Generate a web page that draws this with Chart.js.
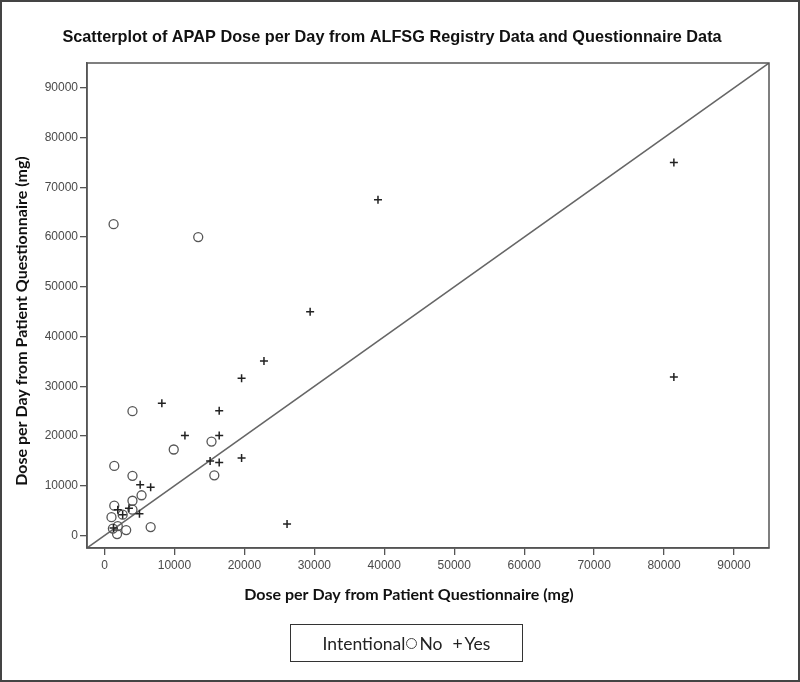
<!DOCTYPE html>
<html>
<head>
<meta charset="utf-8">
<script src="https://cdn.jsdelivr.net/npm/chart.js@4/dist/chart.umd.min.js"></script>
<style>
  html, body { margin: 0; padding: 0; background: #fff; }
  #wrap { position: relative; width: 800px; height: 682px; }
  #frame { position: absolute; left: 0; top: 0; width: 800px; height: 682px; box-sizing: border-box; border: 2px solid #444; pointer-events: none; }
  #legend { position: absolute; left: 290px; top: 624px; width: 233px; height: 38px; box-sizing: border-box; border: 1px solid #333; font: 17.5px Lato, sans-serif; color: #222; display: flex; align-items: center; justify-content: center; }
  #legend .c { display: inline-block; width: 9px; height: 9px; border: 1.3px solid #444; border-radius: 50%; margin: 0 2px 0 1px; }
  #legend .p { margin: 0 2px 0 10px; }
</style>
</head>
<body>
<div id="wrap">
  <canvas id="chart" width="800" height="682"></canvas>
  <div id="legend"></div>
  <div id="frame"></div>
</div>
<script>
(function () {
  const title = "Scatterplot of APAP Dose per Day from ALFSG Registry Data and Questionnaire Data";
  const xTitle = "Dose per Day from Patient Questionnaire (mg)";
  const yTitle = "Dose per Day from Patient Questionnaire (mg)";
  const legendTitle = "Intentional";

  // Intentional = No (open circles)
  const noX = [1300, 13400, 4000, 1400, 9900, 15300, 15700, 4000, 5300, 4000, 1400, 4000, 1000, 2600, 1200, 1800, 3100, 6600, 1900];
  const noY = [62600, 60000, 25000, 14000, 17300, 18900, 12100, 12000, 8100, 7000, 6000, 5200, 3700, 4200, 1400, 300, 1100, 1700, 1900];
  // Intentional = Yes (crosses)
  const yesX = [81400, 81400, 39100, 29400, 22800, 19600, 8200, 16400, 11500, 16400, 15100, 16400, 19600, 5100, 6600, 3500, 5000, 26100, 2600, 1900, 1300];
  const yesY = [75000, 31900, 67500, 45000, 35100, 31600, 26600, 25100, 20100, 20100, 15000, 14700, 15600, 10200, 9700, 5500, 4400, 2300, 4200, 5200, 1500];

  const tickValues = [0, 10000, 20000, 30000, 40000, 50000, 60000, 70000, 80000, 90000];
  const axisMin = -2500;
  const axisMax = 95000;

  const toPoints = (xs, ys) => xs.map((x, i) => ({ x, y: ys[i] }));

  document.getElementById("legend").innerHTML =
    `${legendTitle}<span class="c"></span>No<span class="p">+</span>Yes`;

  const boxPlugin = {
    id: "box",
    afterDatasetsDraw(chart) {
      const { ctx, chartArea: a } = chart;
      ctx.save();
      ctx.strokeStyle = "#555";
      ctx.lineWidth = 1.5;
      ctx.strokeRect(a.left, a.top, a.right - a.left, a.bottom - a.top);
      ctx.restore();
    },
  };

  const textPlugin = {
    id: "texts",
    afterDraw(chart) {
      const ctx = chart.ctx;
      ctx.save();
      ctx.fillStyle = "#111";
      ctx.textAlign = "center";
      ctx.textBaseline = "middle";
      ctx.font = 'bold 16.3px "Liberation Sans", Arial, sans-serif';
      ctx.fillText(title, 392, 38);
      ctx.font = 'bold 16px Lato, sans-serif';
      ctx.fillText(xTitle, 409, 595);
      ctx.translate(22, 321);
      ctx.rotate(-Math.PI / 2);
      ctx.fillText(yTitle, 0, 0);
      ctx.restore();
    },
  };

  const tickFont = { family: '"Liberation Sans", Arial, sans-serif', size: 12 };
  const setTicks = (s) => { s.ticks = tickValues.map((v) => ({ value: v })); };
  const plain = (v) => String(v);

  new Chart(document.getElementById("chart"), {
    type: "scatter",
    data: {
      datasets: [
        { type: "line", label: "ref", data: toPoints([axisMin, axisMax], [axisMin, axisMax]), borderColor: "#666", borderWidth: 1.5, pointRadius: 0, order: 3 },
        { label: "No", data: toPoints(noX, noY), pointStyle: "circle", pointRadius: 4.5, borderColor: "#555", borderWidth: 1.3, backgroundColor: "rgba(0,0,0,0)", order: 2 },
        { label: "Yes", data: toPoints(yesX, yesY), pointStyle: "cross", pointRadius: 4, borderColor: "#222", borderWidth: 1.5, order: 1 },
      ],
    },
    options: {
      responsive: false,
      animation: false,
      layout: { padding: { top: 63, right: 31, left: 0, bottom: 0 } },
      plugins: { legend: { display: false }, title: { display: false }, tooltip: { enabled: false } },
      scales: {
        x: {
          type: "linear", min: axisMin, max: axisMax,
          afterBuildTicks: setTicks,
          afterFit: (s) => { s.height = 134; },
          ticks: { font: tickFont, color: "#4a4a4a", padding: 3, maxRotation: 0, callback: plain },
          grid: { drawOnChartArea: false, tickLength: 7, color: "#555", lineWidth: 1.3 },
          border: { color: "#555", width: 1.5 },
        },
        y: {
          type: "linear", min: axisMin, max: axisMax,
          afterBuildTicks: setTicks,
          afterFit: (s) => { s.width = 87; },
          ticks: { font: tickFont, color: "#4a4a4a", padding: 2, callback: plain },
          grid: { drawOnChartArea: false, tickLength: 7, color: "#555", lineWidth: 1.3 },
          border: { color: "#555", width: 1.5 },
        },
      },
    },
    plugins: [boxPlugin, textPlugin],
  });
})();
</script>
</body>
</html>
